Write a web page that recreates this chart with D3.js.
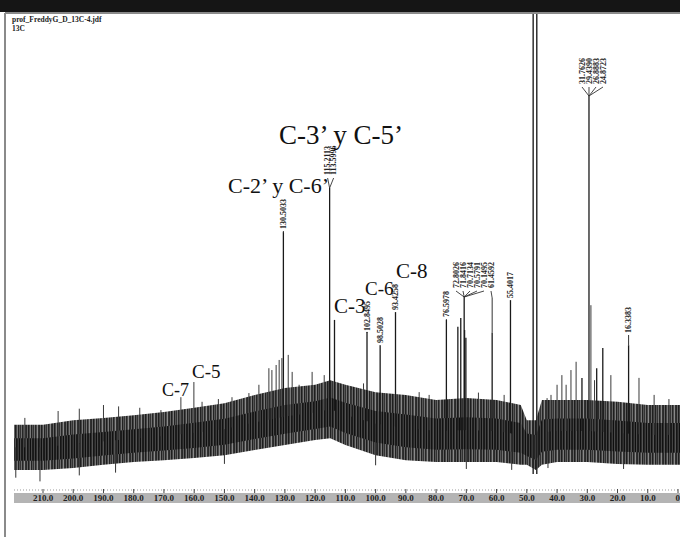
<!DOCTYPE html>
<html>
<head>
<meta charset="utf-8">
<script src="https://cdn.jsdelivr.net/npm/d3@7"></script>
<style>
  body { margin: 0; background: #fff; }
  svg { display: block; font-family: "Liberation Serif", "DejaVu Serif", serif; }
</style>
</head>
<body>
<svg id="chart" width="680" height="537"></svg>
<script>
// labelled peaks (ppm) and their intensities (arbitrary units, 0-100)
const peakShifts  = [130.5033, 115.2113, 113.5996, 102.8495, 98.5028, 93.4258, 76.5978, 72.8026, 71.8416, 70.7134, 70.5791, 70.1495, 61.4592, 55.4017, 31.7626, 29.4390, 26.8883, 24.8723, 16.3383];
const peakHeights = [53.9, 63.5, 34.8, 32.2, 29.3, 36.5, 34.8, 33.3, 35.2, 40.0, 32.6, 30.9, 32.0, 39.1, 22.2, 83.7, 24.3, 28.7, 29.3];

// solvent lines, they run off the top of the plot
const solventShifts  = [47.9, 46.7];
const solventHeights = [110, 110];

// small unlabelled signals sticking out of the noise
const minorShifts  = [216, 205, 198, 190, 185, 178, 171, 164.4, 160.1, 157.4, 152, 147.5, 141.9, 138.6, 135.3, 134.3, 132.9, 131.9, 131.0, 128.9, 127.6, 125.3, 121.0, 117, 108, 104, 85.6, 82.3, 66, 57.5, 43.3, 42.0, 40.0, 38.4, 37.0, 35.4, 33.7, 28.8, 27.6, 22.2, 12.9, 7.9, 3];
const minorHeights = [13.5, 15.0, 15.5, 16.3, 16.0, 15.7, 15.2, 18.0, 21.3, 17.0, 17.6, 18.0, 18.9, 20.7, 24.3, 23.9, 25.0, 26.1, 26.5, 27.2, 23.5, 20.7, 23.5, 22.8, 19.6, 21.0, 19.1, 18.5, 19.0, 18.5, 17.8, 18.5, 20.7, 22.8, 20.7, 23.9, 25.7, 38.0, 21.7, 22.8, 22.2, 18.5, 17.6];

// dips below the noise band
const dipShifts  = [219, 211, 198, 186, 150, 100, 70, 55, 43, 18];
const dipDepths  = [0.5, -0.3, 1.0, 1.6, 3.5, 3.2, 2.4, 2.2, 2.6, 2.4];

// noise band: upper and lower edge
const noisePpm    = [222, 210, 200, 190, 180, 170, 160, 150, 140, 130, 120, 115, 110, 100, 90, 80, 70, 60, 52, 50, 47, 45, 40, 30, 20, 10, -3];
const noiseTop    = [12.0, 12.0, 13.0, 13.5, 14.1, 14.8, 15.7, 16.7, 18.5, 20.0, 20.7, 21.7, 20.7, 19.1, 18.5, 17.4, 17.8, 17.4, 16.3, 13.0, 13.0, 17.4, 17.4, 17.4, 17.0, 16.3, 16.3];
const noiseBottom = [2.2, 2.2, 2.6, 3.3, 3.9, 4.3, 4.8, 5.4, 6.5, 7.6, 8.7, 9.1, 7.6, 5.4, 4.3, 3.9, 3.9, 3.9, 3.3, 3.3, 2.2, 3.3, 3.9, 3.9, 3.5, 3.3, 3.3];

const axisTicks = [210, 200, 190, 180, 170, 160, 150, 140, 130, 120, 110, 100, 90, 80, 70, 60, 50, 40, 30, 20, 10, 0];

const assignments = [
    { text: "C-3\u2019 y C-5\u2019", x: 279, y: 144, size: 27 },
    { text: "C-2\u2019 y C-6\u2019", x: 228, y: 193, size: 22 },
    { text: "C-3", x: 334, y: 313, size: 21 },
    { text: "C-6", x: 365, y: 295, size: 19 },
    { text: "C-8", x: 396, y: 278, size: 21 },
    { text: "C-5", x: 192, y: 378, size: 19 },
    { text: "C-7", x: 162, y: 396, size: 18 }
];

const svg = d3.select("#chart");
const W = 680, H = 537;

const x = d3.scaleLinear().domain([210, 0]).range([43, 678]);
const y = d3.scaleLinear().domain([0, 100]).range([480, 20]);

// page frame
svg.append("rect").attr("x", 0).attr("y", 0).attr("width", W).attr("height", 12).attr("fill", "#151515");
svg.append("line").attr("x1", 5).attr("x2", W).attr("y1", 13).attr("y2", 13).attr("stroke", "#8a8a8a").attr("stroke-width", 2);
svg.append("line").attr("x1", 5).attr("x2", 5).attr("y1", 13).attr("y2", H).attr("stroke", "#8a8a8a").attr("stroke-width", 2);

svg.append("text").attr("x", 12).attr("y", 22).attr("font-size", 7.5).attr("font-weight", "bold").attr("fill", "#222")
    .text("prof_FreddyG_D_13C-4.jdf");
svg.append("text").attr("x", 12).attr("y", 31).attr("font-size", 7.5).attr("font-weight", "bold").attr("fill", "#222")
    .text("13C");

const defs = svg.append("defs");
defs.append("clipPath").attr("id", "plotClip")
    .append("rect").attr("x", 14).attr("y", 14).attr("width", W - 14).attr("height", 474);

// textures for the noise band: greyer rim, dark core
const makePattern = (id, cols) => {
    const p = defs.append("pattern").attr("id", id)
        .attr("patternUnits", "userSpaceOnUse").attr("width", cols.length).attr("height", 8);
    cols.forEach((c, i) => p.append("rect").attr("x", i).attr("width", 1).attr("height", 8).attr("fill", c));
};
makePattern("noiseRim", ["#2a2a2a", "#666", "#1e1e1e", "#444", "#7a7a7a", "#222", "#555", "#333", "#707070", "#262626", "#4a4a4a", "#8a8a8a", "#303030"]);
makePattern("noiseCore", ["#1a1a1a", "#444", "#111", "#2e2e2e", "#555", "#151515", "#262626", "#3c3c3c", "#0f0f0f", "#4a4a4a", "#1c1c1c"]);

const plot = svg.append("g").attr("clip-path", "url(#plotClip)");

const noise = noisePpm.map((p, i) => ({ p: p, t: noiseTop[i], b: noiseBottom[i] }));
const baseMid = p => {
    const i = d3.bisector(d => -d.p).left(noise, -p);
    const a = noise[Math.max(0, i - 1)], c = noise[Math.min(noise.length - 1, i)];
    const f = a.p === c.p ? 0 : (a.p - p) / (a.p - c.p);
    return ((a.t + a.b) / 2) * (1 - f) + ((c.t + c.b) / 2) * f;
};

plot.append("path").datum(noise)
    .attr("d", d3.area().x(d => x(d.p)).y0(d => y(d.b)).y1(d => y(d.t)))
    .attr("fill", "url(#noiseRim)");
plot.append("path").datum(noise)
    .attr("d", d3.area().x(d => x(d.p))
        .y0(d => y(d.b + (d.t - d.b) * 0.2))
        .y1(d => y(d.t - (d.t - d.b) * 0.3)))
    .attr("fill", "url(#noiseCore)");

// minor signals
plot.selectAll(".minor").data(minorShifts.map((p, i) => ({ p: p, h: minorHeights[i] })))
    .enter().append("line").attr("class", "minor")
    .attr("x1", d => x(d.p)).attr("x2", d => x(d.p))
    .attr("y1", d => y(d.h)).attr("y2", d => y(baseMid(d.p)))
    .attr("stroke", "#3a3a3a").attr("stroke-width", 1);

plot.selectAll(".dip").data(dipShifts.map((p, i) => ({ p: p, h: dipDepths[i] })))
    .enter().append("line").attr("class", "dip")
    .attr("x1", d => x(d.p)).attr("x2", d => x(d.p))
    .attr("y1", d => y(baseMid(d.p))).attr("y2", d => y(d.h))
    .attr("stroke", "#333").attr("stroke-width", 1);

// solvent
plot.selectAll(".solvent").data(solventShifts.map((p, i) => ({ p: p, h: solventHeights[i] })))
    .enter().append("line").attr("class", "solvent")
    .attr("x1", d => x(d.p)).attr("x2", d => x(d.p))
    .attr("y1", d => y(d.h)).attr("y2", 474)
    .attr("stroke", "#222").attr("stroke-width", 1.4);

// labelled peaks
const peaks = peakShifts.map((p, i) => ({ p: p, h: peakHeights[i] }));
plot.selectAll(".peak").data(peaks)
    .enter().append("line").attr("class", "peak")
    .attr("x1", d => x(d.p)).attr("x2", d => x(d.p))
    .attr("y1", d => y(d.h)).attr("y2", d => y(baseMid(d.p)))
    .attr("stroke", "#1a1a1a").attr("stroke-width", 1.3);

// peak labels: groups share converging connectors
const labelGroups = [
    { shifts: [130.5033], bottom: 229 },
    { shifts: [115.2113, 113.5996], bottom: 175, meet: 188, anchor: 115.2113, step: 6 },
    { shifts: [102.8495], bottom: 331 },
    { shifts: [98.5028], bottom: 343 },
    { shifts: [93.4258], bottom: 310 },
    { shifts: [76.5978], bottom: 317 },
    { shifts: [72.8026, 71.8416, 70.7134, 70.5791, 70.1495], bottom: 288, meet: 297, anchor: 70.7134, step: 7, start: 456 },
    { shifts: [61.4592], bottom: 288, meet: 298, anchor: 61.4592, step: 7, start: 491 },
    { shifts: [55.4017], bottom: 298 },
    { shifts: [31.7626, 29.4390, 26.8883, 24.8723], bottom: 84, meet: 96, anchor: 29.4390, step: 7, start: 582 },
    { shifts: [16.3383], bottom: 333 }
];

const labels = svg.append("g");
labelGroups.forEach(g => {
    const n = g.shifts.length;
    let xs;
    if (g.start !== undefined) {
        xs = g.shifts.map((s, i) => g.start + i * g.step);
    } else if (n > 1) {
        const c = x(g.anchor) + 1;
        xs = g.shifts.map((s, i) => c - (n - 1) * g.step / 2 + i * g.step);
    } else {
        xs = [x(g.shifts[0])];
    }
    g.shifts.forEach((s, i) => {
        labels.append("text")
            .attr("transform", `translate(${xs[i]},${g.bottom}) rotate(-90)`)
            .attr("dy", "0.33em")
            .attr("font-size", 8).attr("font-weight", "bold").attr("fill", "#222")
            .text(s.toFixed(4));
        if (g.meet !== undefined) {
            labels.append("line")
                .attr("x1", xs[i]).attr("y1", g.bottom + 3)
                .attr("x2", x(g.anchor)).attr("y2", g.meet)
                .attr("stroke", "#333").attr("stroke-width", 0.9);
        } else {
            const pk = peaks.find(d => d.p === s);
            labels.append("line")
                .attr("x1", xs[i]).attr("x2", xs[i])
                .attr("y1", g.bottom + 2).attr("y2", y(pk.h))
                .attr("stroke", "#333").attr("stroke-width", 1);
        }
    });
    if (g.meet !== undefined) {
        const pk = peaks.find(d => d.p === g.anchor);
        if (y(pk.h) > g.meet) {
            labels.append("line")
                .attr("x1", x(g.anchor)).attr("x2", x(g.anchor))
                .attr("y1", g.meet).attr("y2", y(pk.h))
                .attr("stroke", "#333").attr("stroke-width", 1);
        }
    }
});

// assignment captions
svg.selectAll(".assign").data(assignments).enter().append("text")
    .attr("class", "assign")
    .attr("x", d => d.x).attr("y", d => d.y)
    .attr("font-size", d => d.size)
    .attr("fill", "#111")
    .text(d => d.text);

// ppm axis strip
const axisG = svg.append("g");
axisG.append("rect").attr("x", 14).attr("y", 493).attr("width", W - 14).attr("height", 10).attr("fill", "#b4b4b4");
axisG.append("line").attr("x1", 14).attr("x2", W).attr("y1", 490).attr("y2", 490)
    .attr("stroke", "#999").attr("stroke-width", 1).attr("stroke-dasharray", "1,2");
axisG.selectAll(".tk").data(axisTicks).enter().append("line")
    .attr("x1", d => x(d)).attr("x2", d => x(d)).attr("y1", 489).attr("y2", 493)
    .attr("stroke", "#444").attr("stroke-width", 1);
axisG.selectAll(".tl").data(axisTicks).enter().append("text")
    .attr("x", d => d === 0 ? W : x(d)).attr("y", 501)
    .attr("text-anchor", d => d === 0 ? "end" : "middle")
    .attr("font-size", 9).attr("font-weight", "bold").attr("fill", "#222")
    .text(d => d === 0 ? "0" : d.toFixed(1));
</script>
</body>
</html>
